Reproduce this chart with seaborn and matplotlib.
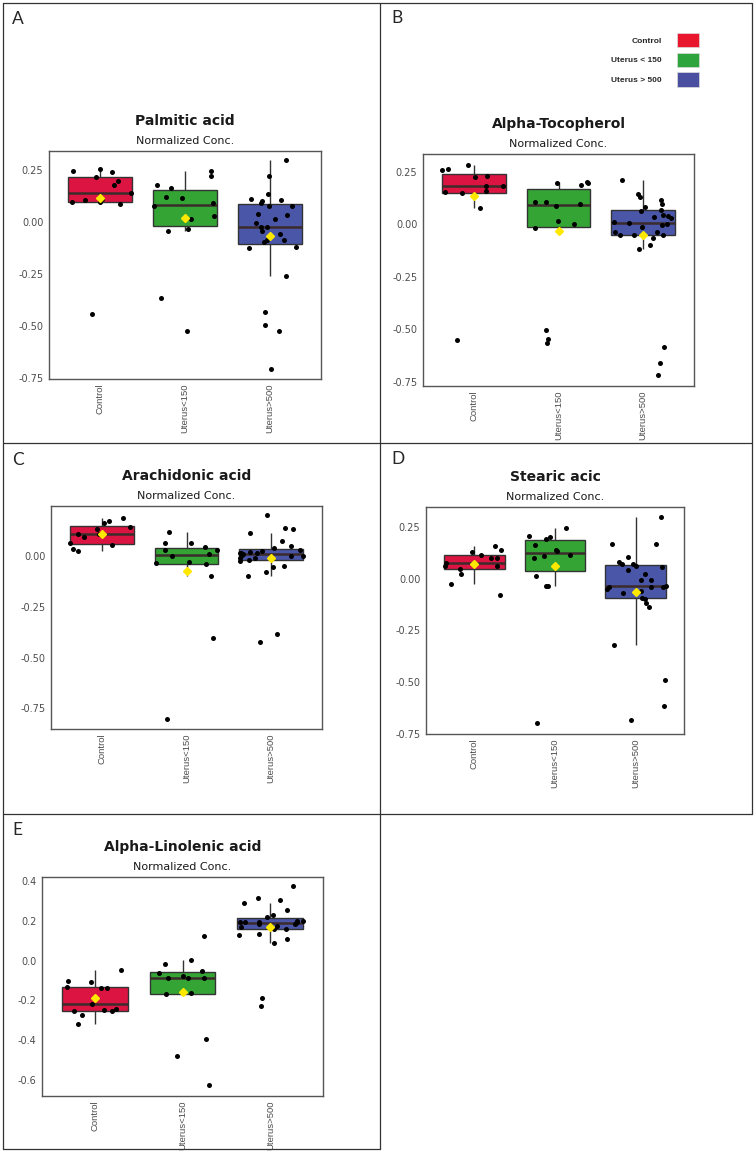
import numpy as np
import pandas as pd
import matplotlib
matplotlib.use("Agg")
import matplotlib.pyplot as plt
from matplotlib.lines import Line2D
from matplotlib.patches import Patch
from matplotlib.ticker import FormatStrFormatter
import seaborn as sns

# groups and colours
groups = ["Control", "Uterus<150", "Uterus>500"]
legend_labels = ["Control", "Uterus < 150", "Uterus > 500"]
box_colors = ["#DC1442", "#34A535", "#4A56A8"]
legend_colors = ["#E8172D", "#2EA43C", "#4A4FA0"]

# A - Palmitic acid
palmitic_control = [0.243, 0.193, 0.212, 0.176, 0.139, 0.110, 0.093, 0.096, 0.105, 0.251, 0.240, 0.085, -0.441]
palmitic_u150 = [0.176, 0.163, 0.244, 0.120, 0.115, 0.089, 0.075, 0.011, 0.027, -0.043, -0.034, 0.217, -0.364, -0.522]
palmitic_u500 = [0.296, 0.104, 0.131, 0.109, 0.219, 0.097, 0.073, 0.089, 0.077, 0.030, 0.035, 0.011, -0.008, -0.024,
                 -0.026, -0.058, -0.046, -0.086, -0.088, -0.096, -0.120, -0.125, -0.262, -0.431, -0.495, -0.526, -0.708]

# B - Alpha-Tocopherol
tocopherol_control = [0.284, 0.258, 0.263, 0.231, 0.227, 0.181, 0.181, 0.158, 0.152, 0.147, 0.076, -0.550]
tocopherol_u150 = [0.198, 0.200, 0.185, 0.197, 0.095, 0.108, 0.105, 0.087, 0.000, 0.016, -0.017, -0.545, -0.566, -0.504]
tocopherol_u500 = [0.211, 0.144, 0.128, 0.114, 0.098, 0.081, 0.065, 0.070, 0.040, 0.033, 0.044, 0.029, 0.013, 0.002,
                   0.006, -0.013, -0.005, -0.038, -0.051, -0.065, -0.035, -0.052, -0.052, -0.119, -0.098, -0.716,
                   -0.583, -0.659]

# C - Arachidonic acid
arachidonic_control = [0.064, 0.133, 0.110, 0.038, 0.163, 0.174, 0.189, 0.145, 0.112, 0.097, 0.056, 0.028]
arachidonic_u150 = [0.120, 0.066, 0.030, 0.044, 0.010, -0.031, -0.026, -0.039, 0.030, 0.003, 0.064, -0.097, -0.403, -0.801]
arachidonic_u500 = [0.202, 0.138, 0.133, 0.113, 0.077, 0.051, 0.043, 0.021, 0.015, 0.016, 0.002, 0.005, -0.007, 0.025,
                    0.010, -0.018, -0.023, -0.053, -0.049, -0.076, -0.097, -0.424, -0.385, 0.030, 0.000, -0.010, 0.018]

# D - Stearic acid
stearic_control = [0.159, 0.137, 0.129, 0.100, 0.063, 0.113, 0.101, 0.061, 0.045, 0.021, -0.026, -0.079, 0.074]
stearic_u150 = [0.244, 0.204, 0.193, 0.201, 0.161, 0.137, 0.132, 0.111, 0.116, 0.100, 0.013, -0.037, -0.034, -0.701]
stearic_u500 = [0.296, 0.166, 0.166, 0.105, 0.079, 0.068, 0.071, 0.062, 0.058, 0.043, 0.023, -0.005, -0.008, -0.043,
                -0.039, -0.040, -0.092, -0.071, -0.119, -0.140, -0.097, -0.323, -0.492, -0.617, -0.685, -0.060,
                -0.050, -0.035]

# E - Alpha-Linolenic acid
linolenic_control = [-0.243, -0.248, -0.251, -0.251, -0.272, -0.317, -0.137, -0.131, -0.045, -0.216, -0.107, -0.101, -0.136]
linolenic_u150 = [0.124, 0.002, -0.018, -0.054, -0.060, -0.085, -0.089, -0.086, -0.079, -0.164, -0.168, -0.392, -0.479, -0.627]
linolenic_u500 = [0.374, 0.290, 0.307, 0.313, 0.255, 0.231, 0.221, 0.193, 0.168, 0.159, 0.134, 0.131, 0.109, 0.087,
                  0.201, 0.176, 0.196, 0.201, 0.193, 0.193, 0.161, -0.189, -0.226, 0.184, 0.186, 0.188]

ticks_025 = [-0.75, -0.50, -0.25, 0.00, 0.25]
ticks_02 = [-0.6, -0.4, -0.2, 0.0, 0.2, 0.4]

W, H = 755, 1152
sns.set_style("white")
plt.rcParams["font.family"] = ["DejaVu Sans"]
plt.rcParams["axes.unicode_minus"] = False

fig = plt.figure(figsize=(W / 100, H / 100), dpi=100)
np.random.seed(7)

# letter, title, data, ylim, yticks, fmt, axes box in px (left, top, right, bottom), letter pos
panels = [
    ("A", "Palmitic acid", [palmitic_control, palmitic_u150, palmitic_u500],
     (-0.754, 0.339), ticks_025, "%.2f", (49, 151, 321, 379), (12, 24)),
    ("B", "Alpha-Tocopherol", [tocopherol_control, tocopherol_u150, tocopherol_u500],
     (-0.769, 0.334), ticks_025, "%.2f", (423, 154, 694, 386), (391, 23)),
    ("C", "Arachidonic acid", [arachidonic_control, arachidonic_u150, arachidonic_u500],
     (-0.852, 0.248), ticks_025[:-1], "%.2f", (51, 506, 322, 729), (12, 465)),
    ("D", "Stearic acic", [stearic_control, stearic_u150, stearic_u500],
     (-0.752, 0.346), ticks_025, "%.2f", (426, 507, 684, 734), (391, 464)),
    ("E", "Alpha-Linolenic acid", [linolenic_control, linolenic_u150, linolenic_u500],
     (-0.681, 0.421), ticks_02, "%.1f", (42, 877, 323, 1096), (12, 835)),
]

for letter, title, vals, ylim, yticks, fmt, box, lpos in panels:
    l, t, r, b = box
    ax = fig.add_axes([l / W, 1 - b / H, (r - l) / W, (b - t) / H])
    df = pd.DataFrame({"group": np.repeat(groups, [len(v) for v in vals]),
                       "value": np.concatenate(vals)})
    sns.boxplot(data=df, x="group", y="value", hue="group", order=groups, hue_order=groups,
                palette=box_colors, saturation=1, width=0.75, showfliers=False, showcaps=False,
                showmeans=True, linecolor="#333333", linewidth=1, legend=False,
                medianprops={"color": "#3b2b2b", "linewidth": 1.8},
                meanprops={"marker": "D", "markerfacecolor": "#FFE800", "markeredgecolor": "#FFE800",
                           "markersize": 4.5, "zorder": 5},
                ax=ax)
    sns.stripplot(data=df, x="group", y="value", order=groups, color="black", size=3.6,
                  jitter=0.38, linewidth=0, zorder=3, ax=ax)
    ax.set_xlim(-0.6, 2.6)
    ax.set_ylim(*ylim)
    ax.set_yticks(yticks)
    ax.yaxis.set_major_formatter(FormatStrFormatter(fmt))
    ax.set_xlabel("")
    ax.set_ylabel("")
    for s in ax.spines.values():
        s.set_visible(True)
        s.set_color("#555555")
        s.set_linewidth(1)
    ax.tick_params(axis="both", length=2.5, width=0.8, color="#555555", labelcolor="#4D4D4D")
    ax.tick_params(axis="x", labelsize=6.8, labelrotation=90, pad=1)
    ax.tick_params(axis="y", labelsize=7, pad=1.5)
    for lab in ax.get_xticklabels():
        lab.set_family(["Liberation Sans", "DejaVu Sans"])
    ax.annotate(title, xy=(0.5, 1), xycoords="axes fraction", xytext=(0, 19),
                textcoords="offset points", ha="center", va="baseline",
                fontsize=10, fontweight="bold", color="#1a1a1a")
    ax.annotate("Normalized Conc.", xy=(0.5, 1), xycoords="axes fraction", xytext=(0, 5.3),
                textcoords="offset points", ha="center", va="baseline", fontsize=8, color="#1a1a1a")
    fig.text(lpos[0] / W, 1 - lpos[1] / H, letter, family=["Lato", "DejaVu Sans"],
             fontsize=12.5, ha="left", va="baseline")

# legend in panel B
handles = [Patch(facecolor=c, edgecolor="#dddddd", linewidth=0.5) for c in legend_colors]
fig.legend(handles=handles, labels=legend_labels, loc="upper right",
           bbox_to_anchor=(699 / W, 1 - 33 / H), frameon=False, markerfirst=False,
           borderpad=0, borderaxespad=0, handlelength=2.6, handleheight=2.25,
           labelspacing=0.66, handletextpad=1.9,
           prop={"family": ["Liberation Sans", "DejaVu Sans"], "weight": "bold", "size": 6})

# panel frames
frame_lines = [
    ((3, 3), (752, 3)), ((3, 3), (3, 1149)), ((752, 3), (752, 814)),
    ((380, 3), (380, 1149)), ((3, 443), (752, 443)), ((3, 814), (752, 814)),
    ((3, 1149), (380, 1149)),
]
for (x0, y0), (x1, y1) in frame_lines:
    fig.add_artist(Line2D([x0 / W, x1 / W], [1 - y0 / H, 1 - y1 / H],
                          transform=fig.transFigure, color="#333333", linewidth=0.9))

fig.savefig("out.png", dpi=100, facecolor="white")
